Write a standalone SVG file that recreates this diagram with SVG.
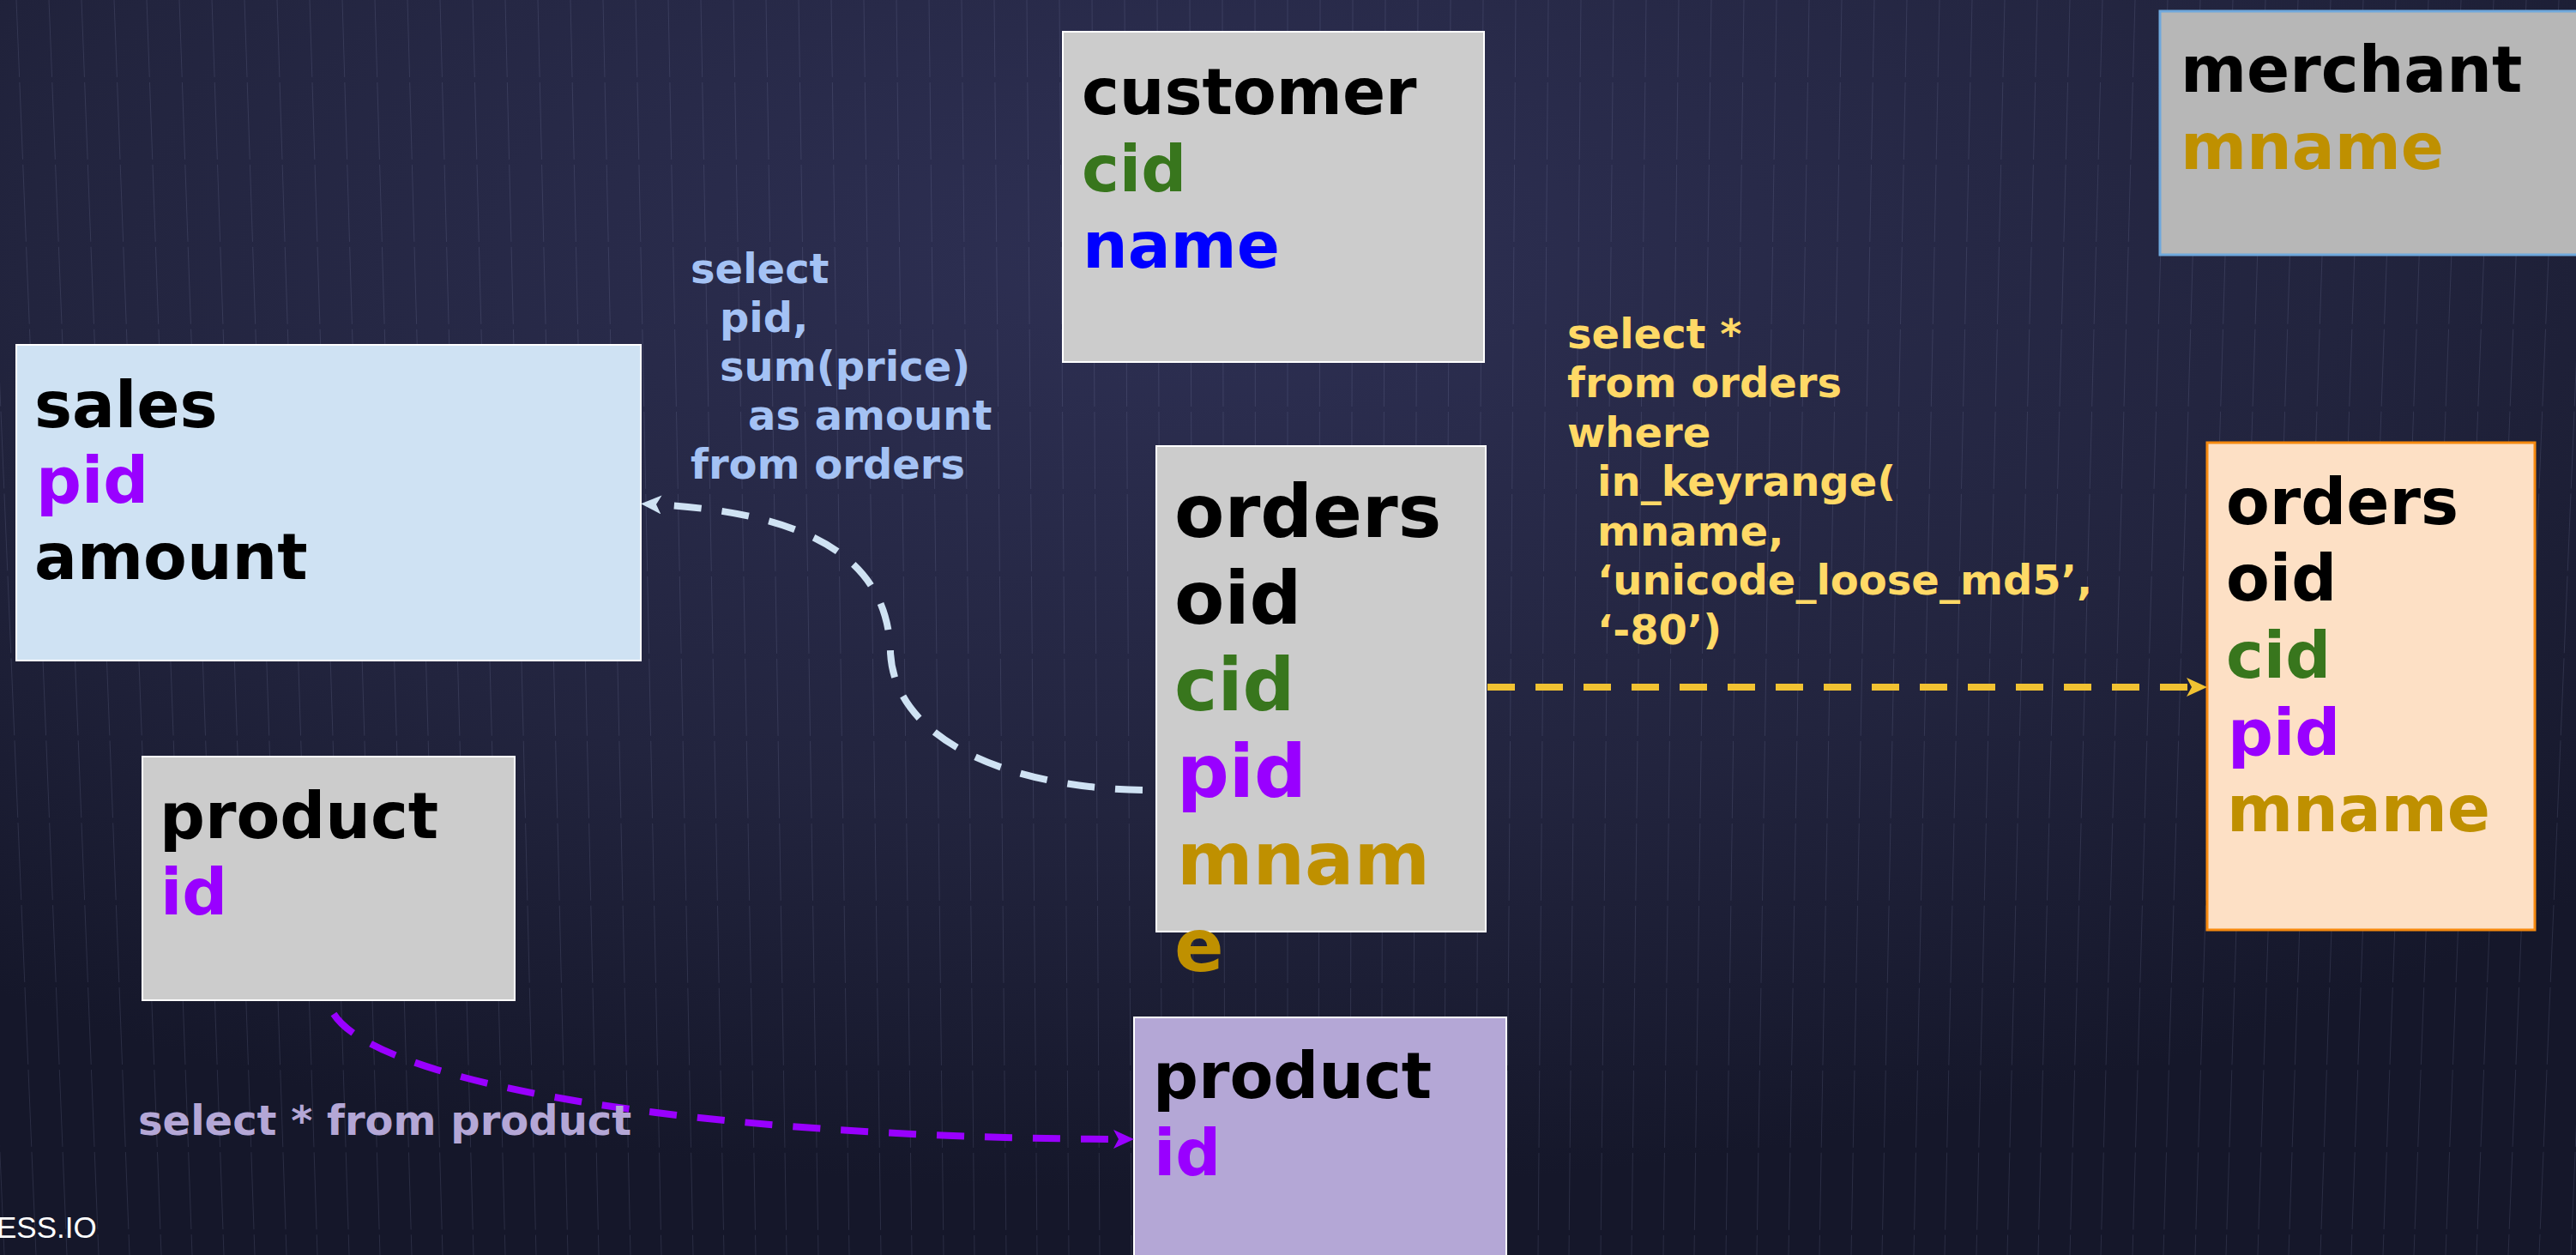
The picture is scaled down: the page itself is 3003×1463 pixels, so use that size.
<svg xmlns="http://www.w3.org/2000/svg" width="3003" height="1463" viewBox="0 0 3003 1463">
<defs>
<radialGradient id="bg" cx="0.46" cy="0.2" r="0.75">
<stop offset="0" stop-color="#2e3054"/>
<stop offset="0.6" stop-color="#22243e"/>
<stop offset="1" stop-color="#15172a"/>
</radialGradient>
<marker id="arrBlue" viewBox="0 0 24 22" refX="8" refY="11" markerWidth="24" markerHeight="22" markerUnits="userSpaceOnUse" orient="auto"><path d="M0,0 L24,11 L0,22 L6,11 z" fill="#cfe2f3"/></marker>
<marker id="arrYellow" viewBox="0 0 24 22" refX="8" refY="11" markerWidth="24" markerHeight="22" markerUnits="userSpaceOnUse" orient="auto"><path d="M0,0 L24,11 L0,22 L6,11 z" fill="#f1c232"/></marker>
<marker id="arrPurple" viewBox="0 0 24 22" refX="8" refY="11" markerWidth="24" markerHeight="22" markerUnits="userSpaceOnUse" orient="auto"><path d="M0,0 L24,11 L0,22 L6,11 z" fill="#9900ff"/></marker>
</defs>
<style>
text{font-family:"DejaVu Sans","Liberation Sans",sans-serif;font-weight:bold}
.t75{font-size:74px}
.t85{font-size:85px}
.lbl{font-size:48px}
.blk{fill:#000000}
.grn{fill:#38761d}
.blu{fill:#0000ff}
.pur{fill:#9900ff}
.gld{fill:#bf9000}
.box{stroke:#ffffff;stroke-width:2}
.conn{fill:none;stroke-width:8;stroke-dasharray:32 24}
</style>
<rect x="0" y="0" width="3003" height="1463" fill="url(#bg)"/>
<path stroke="#a9adda" stroke-opacity="0.15" stroke-width="1" fill="none" stroke-dasharray="90 6" d="M-57 0l62 1463M-19 0l61 1463M19 0l59 1463M57 0l58 1463M95 0l56 1463M133 0l55 1463M171 0l53 1463M209 0l52 1463M247 0l50 1463M285 0l49 1463M323 0l47 1463M361 0l46 1463M399 0l44 1463M437 0l43 1463M475 0l41 1463M513 0l39 1463M551 0l38 1463M589 0l36 1463M627 0l35 1463M665 0l33 1463M703 0l32 1463M741 0l30 1463M779 0l29 1463M817 0l27 1463M855 0l26 1463M893 0l24 1463M931 0l23 1463M969 0l21 1463M1007 0l20 1463M1045 0l18 1463M1083 0l17 1463M1121 0l15 1463M1159 0l14 1463M1197 0l12 1463M1235 0l11 1463M1273 0l9 1463M1311 0l8 1463M1349 0l6 1463M1387 0l5 1463M1425 0l3 1463M1463 0l1 1463M1501 0l0 1463M1539 0l-2 1463M1577 0l-3 1463M1615 0l-5 1463M1653 0l-6 1463M1691 0l-8 1463M1729 0l-9 1463M1767 0l-11 1463M1805 0l-12 1463M1843 0l-14 1463M1881 0l-15 1463M1919 0l-17 1463M1957 0l-18 1463M1995 0l-20 1463M2033 0l-21 1463M2071 0l-23 1463M2109 0l-24 1463M2147 0l-26 1463M2185 0l-27 1463M2223 0l-29 1463M2261 0l-30 1463M2299 0l-32 1463M2337 0l-33 1463M2375 0l-35 1463M2413 0l-37 1463M2451 0l-38 1463M2489 0l-40 1463M2527 0l-41 1463M2565 0l-43 1463M2603 0l-44 1463M2641 0l-46 1463M2679 0l-47 1463M2717 0l-49 1463M2755 0l-50 1463M2793 0l-52 1463M2831 0l-53 1463M2869 0l-55 1463M2907 0l-56 1463M2945 0l-58 1463M2983 0l-59 1463M3021 0l-61 1463M3059 0l-62 1463"/>

<g id="customer">
<rect class="box" x="1239" y="37" width="491" height="385" fill="#cccccc"/>
<text class="t75 blk" x="1261" y="133">customer</text>
<text class="t75 grn" x="1261" y="223">cid</text>
<text class="t75 blu" x="1262" y="312">name</text>
</g>

<g id="merchant">
<rect x="2518" y="13" width="520" height="284" fill="#b7b7b7" stroke="#6fa8dc" stroke-width="3"/>
<text class="t75 blk" x="2542" y="107">merchant</text>
<text class="t75 gld" x="2542" y="197">mname</text>
</g>

<g id="sales">
<rect class="box" x="19" y="402" width="728" height="368" fill="#cfe2f3"/>
<text class="t75 blk" x="40" y="498">sales</text>
<text class="t75 pur" x="42" y="586">pid</text>
<text class="t75 blk" x="40" y="675">amount</text>
</g>

<g id="orders-source">
<rect class="box" x="1348" y="520" width="384" height="566" fill="#cccccc"/>
<text class="t85 blk" x="1369" y="626">orders</text>
<text class="t85 blk" x="1369" y="727">oid</text>
<text class="t85 grn" x="1369" y="828">cid</text>
<text class="t85 pur" x="1372" y="929">pid</text>
<text class="t85 gld" x="1372" y="1031">mnam</text>
<text class="t85 gld" x="1369" y="1132">e</text>
</g>

<g id="orders-target">
<rect x="2573" y="516" width="382" height="568" fill="#fde0c5" stroke="#f6890f" stroke-width="3"/>
<text class="t75 blk" x="2595" y="611">orders</text>
<text class="t75 blk" x="2595" y="700">oid</text>
<text class="t75 grn" x="2595" y="790">cid</text>
<text class="t75 pur" x="2597" y="880">pid</text>
<text class="t75 gld" x="2596" y="969">mname</text>
</g>

<g id="product-source">
<rect class="box" x="166" y="882" width="434" height="284" fill="#cccccc"/>
<text class="t75 blk" x="186" y="977">product</text>
<text class="t75 pur" x="187" y="1066">id</text>
</g>

<g id="product-target">
<rect class="box" x="1322" y="1186" width="434" height="300" fill="#b4a7d6"/>
<text class="t75 blk" x="1344" y="1280">product</text>
<text class="t75 pur" x="1345" y="1370">id</text>
</g>

<g id="connectors">
<path class="conn" stroke="#cfe2f3" stroke-width="7" d="M1332 921 C1170 918 1042 860 1038 760 C1035 655 950 598 763 588" marker-end="url(#arrBlue)"/>
<path class="conn" stroke="#f1c232" d="M1734 801 L2557 801" marker-end="url(#arrYellow)"/>
<path class="conn" stroke="#9900ff" d="M389 1182 C440 1262 800 1326 1306 1328" marker-end="url(#arrPurple)"/>
</g>

<g id="labels">
<g>
<text class="lbl" fill="#a4c2f4" x="805" y="330">select</text>
<text class="lbl" fill="#a4c2f4" x="839" y="387">pid,</text>
<text class="lbl" fill="#a4c2f4" x="839" y="444">sum(price)</text>
<text class="lbl" fill="#a4c2f4" x="872" y="501">as amount</text>
<text class="lbl" fill="#a4c2f4" x="805" y="558">from orders</text>
</g>
<g>
<text class="lbl" fill="#ffd966" x="1827" y="406">select *</text>
<text class="lbl" fill="#ffd966" x="1827" y="463">from orders</text>
<text class="lbl" fill="#ffd966" x="1827" y="521">where</text>
<text class="lbl" fill="#ffd966" x="1862" y="578">in_keyrange(</text>
<text class="lbl" fill="#ffd966" x="1862" y="636">mname,</text>
<text class="lbl" fill="#ffd966" x="1862" y="693">‘unicode_loose_md5’,</text>
<text class="lbl" fill="#ffd966" x="1862" y="751">‘-80’)</text>
</g>
<text class="lbl" fill="#b4a7d6" x="161" y="1323">select * from product</text>
<text x="-4" y="1443" font-size="35" fill="#ffffff" style="font-family:'Liberation Sans',Arial,sans-serif;font-weight:normal">ESS.IO</text>
</g>
</svg>
